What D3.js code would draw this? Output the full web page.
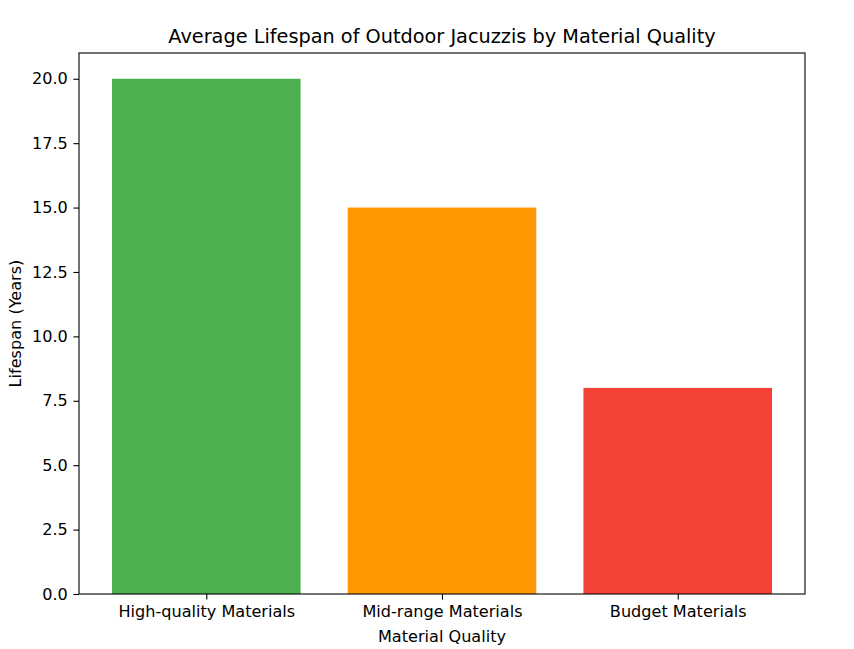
<!DOCTYPE html>
<html>
<head>
<meta charset="utf-8">
<script src="https://cdn.jsdelivr.net/npm/d3@7"></script>
<style>
  html, body { margin: 0; padding: 0; background: #fff; }
  svg { display: block; }
  text { font-family: "DejaVu Sans", sans-serif; fill: #000; }
</style>
</head>
<body>
<svg id="chart" width="854" height="649"></svg>
<script>
const categories = ["High-quality Materials", "Mid-range Materials", "Budget Materials"];
const lifespans = [20, 15, 8];
const barColors = ["#4CAF50", "#FF9800", "#F44336"];
const yTicks = [0, 2.5, 5, 7.5, 10, 12.5, 15, 17.5, 20];
const titleText = "Average Lifespan of Outdoor Jacuzzis by Material Quality";
const xLabelText = "Material Quality";
const yLabelText = "Lifespan (Years)";

(function () {
const svg = d3.select("#chart");
const mLeft = 79, mRight = 805, mTop = 53, mBottom = 594;
const tickFont = 16.1, titleFont = 19.3;

const x = d3.scaleLinear().domain([-0.54, 2.54]).range([mLeft, mRight]);
const y = d3.scaleLinear().domain([0, 21]).range([mBottom, mTop]);
const barW = 0.8;

svg.append("g").selectAll("rect")
  .data(lifespans)
  .join("rect")
  .attr("x", (d, i) => x(i - barW / 2))
  .attr("width", (d, i) => x(i + barW / 2) - x(i - barW / 2))
  .attr("y", d => y(d))
  .attr("height", d => y(0) - y(d))
  .attr("fill", (d, i) => barColors[i]);

const yAxis = d3.axisLeft(y).tickValues(yTicks).tickFormat(d3.format(".1f"))
  .tickSize(5.6).tickPadding(5.6);
const gy = svg.append("g").attr("transform", `translate(${mLeft},0)`).call(yAxis);
gy.select(".domain").remove();
gy.selectAll("line").attr("stroke", "#000").attr("stroke-width", 1.1);
gy.selectAll("text").style("font-size", tickFont + "px").style("font-family", "DejaVu Sans").attr("fill", "#000");

const xAxis = d3.axisBottom(x).tickValues(d3.range(categories.length))
  .tickFormat(i => categories[i]).tickSize(5.6).tickPadding(5.6);
const gx = svg.append("g").attr("transform", `translate(0,${mBottom})`).call(xAxis);
gx.select(".domain").remove();
gx.selectAll("line").attr("stroke", "#000").attr("stroke-width", 1.1);
gx.selectAll("text").style("font-size", tickFont + "px").style("font-family", "DejaVu Sans").attr("fill", "#000");

svg.append("rect")
  .attr("x", mLeft).attr("y", mTop)
  .attr("width", mRight - mLeft).attr("height", mBottom - mTop)
  .attr("fill", "none").attr("stroke", "#000").attr("stroke-width", 1.1);

svg.append("text")
  .attr("x", (mLeft + mRight) / 2).attr("y", mTop - 9.7)
  .attr("text-anchor", "middle")
  .style("font-size", titleFont + "px")
  .text(titleText);

svg.append("text")
  .attr("x", (mLeft + mRight) / 2).attr("y", 642)
  .attr("text-anchor", "middle")
  .style("font-size", tickFont + "px")
  .text(xLabelText);

svg.append("text")
  .attr("transform", `translate(21,${(mTop + mBottom) / 2}) rotate(-90)`)
  .attr("text-anchor", "middle")
  .style("font-size", tickFont + "px")
  .text(yLabelText);
})();
</script>
</body>
</html>
